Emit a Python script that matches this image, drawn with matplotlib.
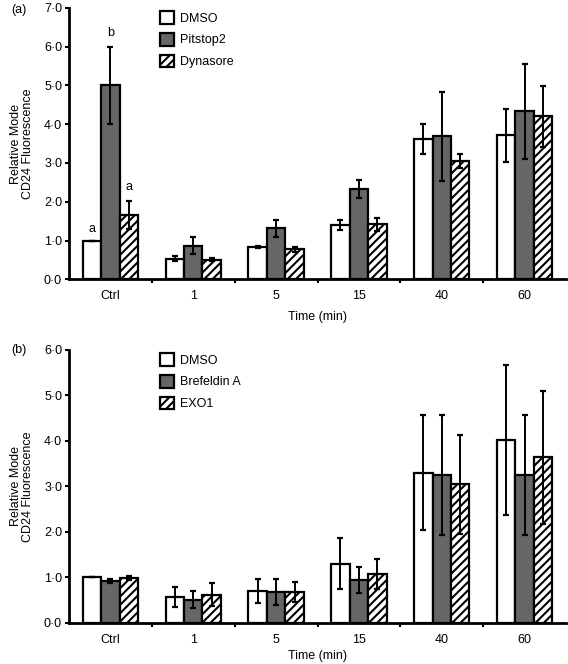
import numpy as np
import matplotlib
matplotlib.use("Agg")
import matplotlib.pyplot as plt
from matplotlib.ticker import FuncFormatter

plt.rcParams['font.family'] = ['Liberation Sans', 'DejaVu Sans']
plt.rcParams['font.size'] = 9
plt.rcParams['hatch.linewidth'] = 1.5

categories = ["Ctrl", "1", "5", "15", "40", "60"]

# panel (a)
a_labels = ["DMSO", "Pitstop2", "Dynasore"]
a_dmso = [1.00, 0.53, 0.83, 1.40, 3.61, 3.71]
a_dmso_err = [0.0, 0.07, 0.03, 0.13, 0.39, 0.69]
a_pit = [5.00, 0.87, 1.31, 2.33, 3.69, 4.33]
a_pit_err = [1.00, 0.23, 0.22, 0.23, 1.15, 1.22]
a_dyn = [1.66, 0.51, 0.77, 1.42, 3.05, 4.20]
a_dyn_err = [0.36, 0.03, 0.06, 0.17, 0.19, 0.79]

# panel (b)
b_labels = ["DMSO", "Brefeldin A", "EXO1"]
b_dmso = [1.00, 0.57, 0.70, 1.30, 3.30, 4.01]
b_dmso_err = [0.0, 0.22, 0.27, 0.56, 1.26, 1.65]
b_bref = [0.92, 0.51, 0.68, 0.94, 3.24, 3.24]
b_bref_err = [0.04, 0.18, 0.28, 0.29, 1.32, 1.32]
b_exo = [0.98, 0.62, 0.68, 1.08, 3.05, 3.64]
b_exo_err = [0.04, 0.26, 0.22, 0.33, 1.09, 1.46]

sig_letters = ["a", "b", "a"]
sig_heights = [1.30, 6.36, 2.38]

fig = plt.figure(figsize=(5.68, 6.64), dpi=100)
ax_a = fig.add_axes([0.1215, 0.5794, 0.875, 0.4087])
ax_b = fig.add_axes([0.1215, 0.0622, 0.875, 0.4107])

x = np.arange(len(categories))
w = 0.223
styles = [dict(color="white", hatch=None),
          dict(color="#666666", hatch=None),
          dict(color="white", hatch="////")]


def draw(ax, series, errs, labels, ymax, xpad):
    for i, (vals, err, st) in enumerate(zip(series, errs, styles)):
        ax.bar(x + (i - 1) * w, vals, w, color=st["color"], hatch=st["hatch"],
               edgecolor="black", linewidth=1.6, label=labels[i],
               yerr=err, error_kw=dict(ecolor="black", elinewidth=1.4,
                                       capsize=2.5, capthick=1.6))
    ax.set_xlim(-0.5, len(categories) - 0.5)
    ax.set_ylim(0, ymax)
    ax.set_yticks(np.arange(0, ymax + 0.01, 1.0))
    ax.yaxis.set_major_formatter(FuncFormatter(lambda v, p: f"{v:.1f}".replace(".", "\u00b7")))
    ax.set_xticks(x)
    ax.set_xticklabels(categories)
    ax.set_xticks(np.arange(0.5, len(categories) - 0.5, 1.0), minor=True)
    ax.tick_params(axis="x", which="major", length=0, pad=8)
    ax.tick_params(axis="x", which="minor", length=3, width=1.5, direction="out")
    ax.tick_params(axis="y", length=3, width=1.5, direction="out", pad=2)
    for s in ["top", "right"]:
        ax.spines[s].set_visible(False)
    for s in ["left", "bottom"]:
        ax.spines[s].set_linewidth(2)
    ax.set_xlabel("Time (min)", labelpad=xpad)
    ax.set_ylabel("Relative Mode\nCD24 Fluorescence", labelpad=7, linespacing=1.0)
    ax.legend(loc="upper left", bbox_to_anchor=(0.16, 1.03), frameon=False,
              handlelength=1.15, handleheight=1.2, handletextpad=0.5,
              labelspacing=0.65)


draw(ax_a, [a_dmso, a_pit, a_dyn], [a_dmso_err, a_pit_err, a_dyn_err], a_labels, 7.0, 6)
draw(ax_b, [b_dmso, b_bref, b_exo], [b_dmso_err, b_bref_err, b_exo_err], b_labels, 6.0, 3)

for i, (lt, h) in enumerate(zip(sig_letters, sig_heights)):
    ax_a.text(x[0] + (i - 1) * w, h, lt, ha="center", va="center")

fig.text(0.02, 0.985, "(a)", ha="left", va="center")
fig.text(0.02, 0.473, "(b)", ha="left", va="center")

fig.savefig("out.png", dpi=100)
